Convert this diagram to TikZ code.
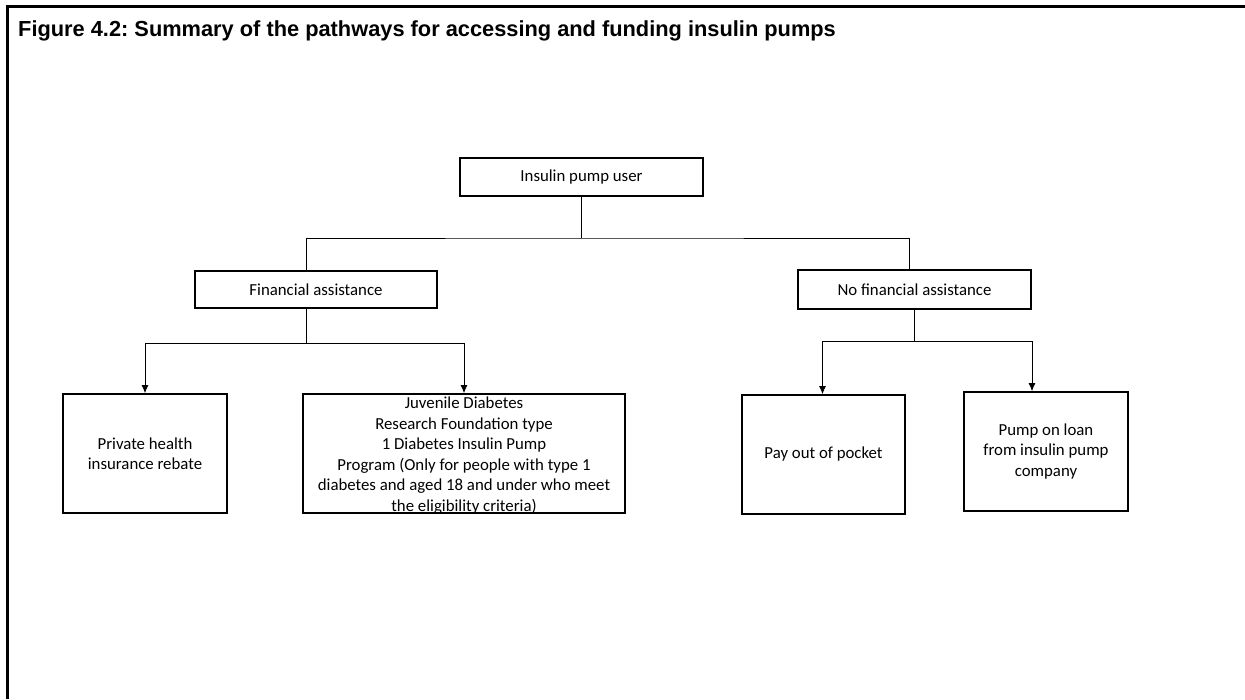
\documentclass[tikz,border=0pt]{standalone}
\usepackage{fontspec}
\setmainfont{Carlito}
\newfontfamily\titlefont{Liberation Sans}
\usetikzlibrary{positioning, arrows.meta}
\frenchspacing

\begin{document}
\begin{tikzpicture}[x=1pt, y=-1pt,
    box/.style={draw, line width=1.6pt, align=center, inner sep=0pt,
        font=\fontsize{16.8}{20.5}\selectfont},
    link/.style={line width=0.9pt},
    fall/.style={link, -{Latex[length=8pt, width=7pt]}}]
    \useasboundingbox (0,0) rectangle (1245,699);
    % Frame and title
    \draw[line width=3pt] (7,699) -- (7,6) -- (1245,6);
    \node[anchor=base west, inner sep=0pt,
        font=\titlefont\bfseries\fontsize{21.8}{26}\selectfont] (title) at (18,36)
        {Figure 4.2: Summary of the pathways for accessing and funding insulin pumps};
    % Top level
    \node[box, minimum width=243pt, minimum height=38pt] (user) at (581.5,177) {Insulin pump user};
    \node[box, minimum width=242pt, minimum height=37pt] (fin) at (316,289.5) {Financial assistance};
    \node[box, minimum width=233pt, minimum height=39pt] (nofin) at (914.5,289.5) {No financial assistance};
    % Bottom boxes
    \node[box, minimum width=164pt, minimum height=119pt] (private) at (145,453.5)
        {Private health\\insurance rebate};
    \node[box, minimum width=322pt, minimum height=119pt] (jdrf) at (464,453.5) {};
    \node[box, draw=none] (jdrftext) at ([yshift=-2pt]jdrf.center)
        {Juvenile Diabetes\\Research Foundation type\\1 Diabetes Insulin Pump\\
         Program (Only for people with type 1\\diabetes and aged 18 and under who meet\\
         the eligibility criteria)};
    \node[box, minimum width=163pt, minimum height=119pt] (pay) at (823.5,454.5) {Pay out of pocket};
    \node[box, minimum width=164pt, minimum height=119pt] (loan) at (1046,451.5)
        {Pump on loan\\from insulin pump\\company};
    % Connectors
    \coordinate (topbus) at (581.5,238);
    \coordinate (leftbus) at (306,343);
    \coordinate (rightbus) at (914.5,341);
    \draw[link] (user.south) -- (topbus);
    \draw[link] ([xshift=-10pt]fin.north) |- (topbus) -| ([xshift=-5pt]nofin.north);
    \draw[link] ([xshift=-10pt]fin.south) -- (leftbus);
    \draw[fall] (leftbus) -| (private.north);
    \draw[fall] (leftbus) -| (jdrf.north);
    \draw[link] (nofin.south) -- (rightbus);
    \draw[fall] (rightbus) -| ([xshift=-1pt]pay.north);
    \draw[fall] (rightbus) -| ([xshift=-14pt]loan.north);
\end{tikzpicture}
\end{document}
